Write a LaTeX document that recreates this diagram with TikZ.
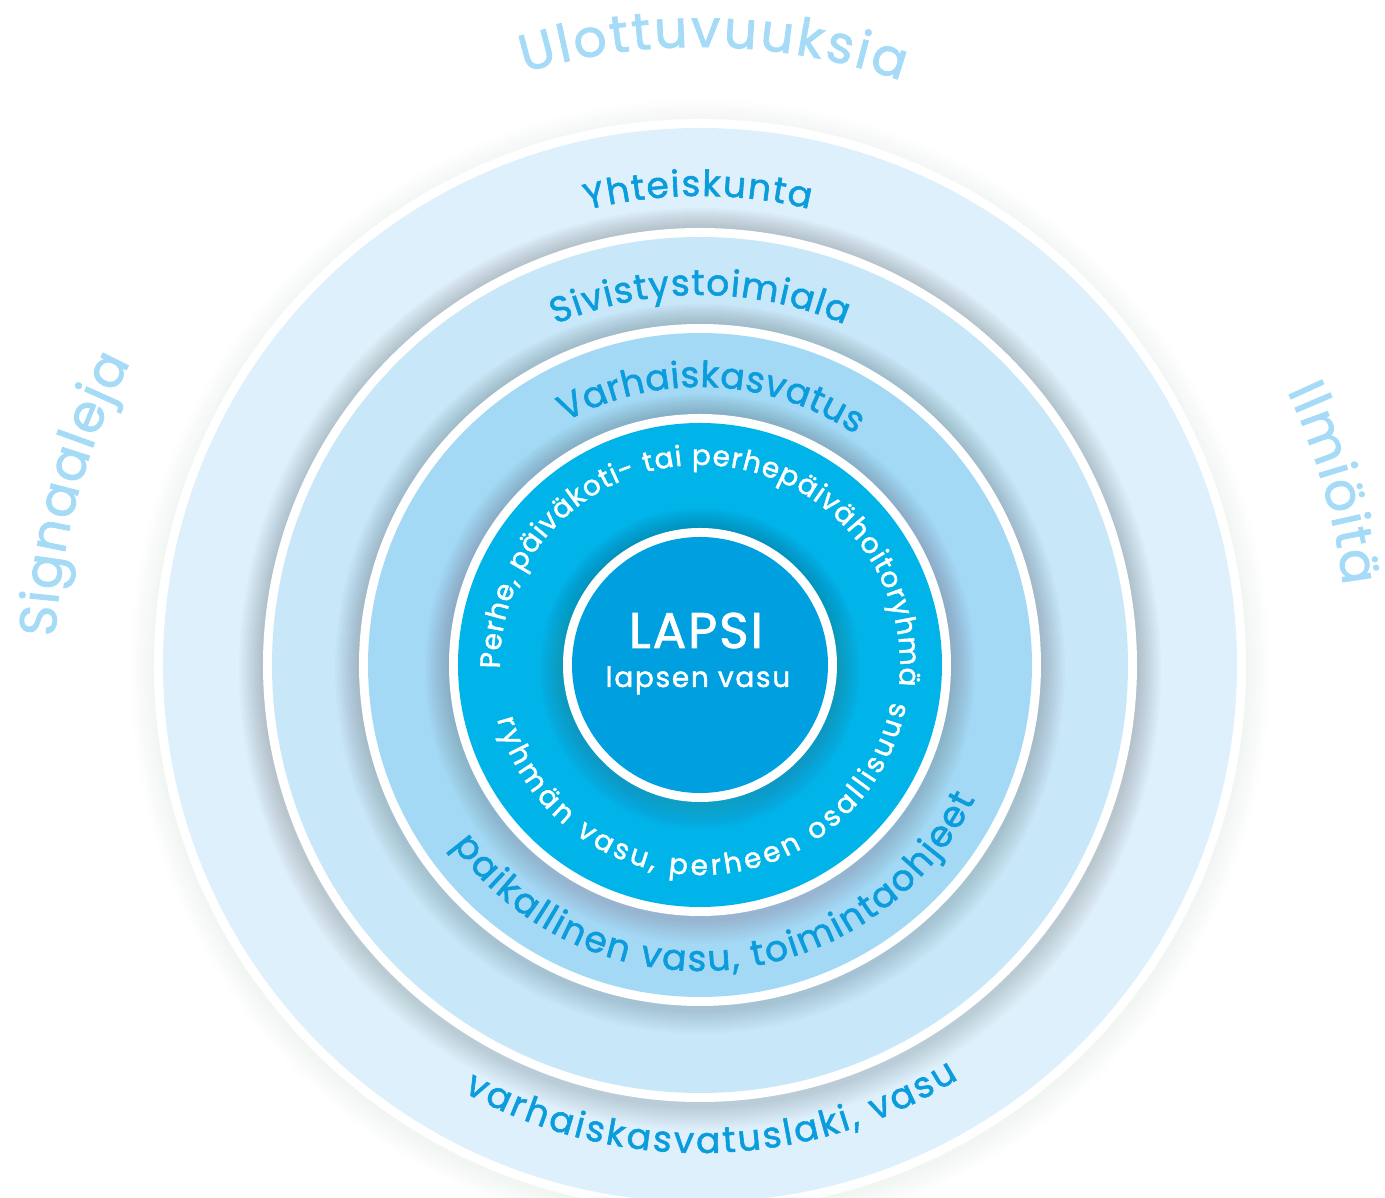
\documentclass[tikz,border=0pt]{standalone}
\usepackage{fontspec}
\setmainfont{Poppins}[FakeBold=1.6]
\usetikzlibrary{decorations.text}
\newcommand{\ringsize}[1]{\fontsize{#1}{#1}\selectfont}
\tikzset{
  ringlabel/.style = {decorate, decoration={text along path, text align={fit to path}}},
  corelabel/.style = {text=white, inner sep=0pt, anchor=base}
}

\begin{document}
\begin{tikzpicture}[x=1pt, y=1pt]
  \definecolor{ringA}{HTML}{DEF0FB}
  \definecolor{ringB}{HTML}{C8E7F8}
  \definecolor{ringC}{HTML}{A3D9F5}
  \definecolor{ringD}{HTML}{00B4EA}
  \definecolor{ringE}{HTML}{009FE0}
  \definecolor{bandText}{HTML}{0A9CDD}
  \definecolor{outerText}{HTML}{A6DBF7}
  \definecolor{glow}{HTML}{9FBFAA}
  \definecolor{shade}{HTML}{4FA5B0}

  \useasboundingbox (-700,-533) rectangle (685,665);

  % rings, each with a soft shadow round it
  \foreach \R/\col/\sh in {546/ringA/glow, 437/ringB/shade, 341/ringC/shade, 251/ringD/shade, 137/ringE/shade}{
    \foreach \k in {1,...,12}
      \fill[\sh, opacity=0.01] (0,-4) circle ({\R+2*\k});
    \fill[white] (0,0) circle (\R);
    \fill[\col] (0,0) circle ({\R-9});
  }

  % outer words
  \path[ringlabel, decoration={text={|\ringsize{52}\color{outerText}|Ulottuvuuksia}}]
    (106.5:618) arc[start angle=106.5, end angle=71, radius=618];
  \path[ringlabel, decoration={text={|\ringsize{52}\color{outerText}|Signaaleja}}]
    (177.5:645) arc[start angle=177.5, end angle=152, radius=645];
  \path[ringlabel, decoration={text={|\ringsize{52}\color{outerText}|Ilmiöitä}}]
    (25:648) arc[start angle=25, end angle=7, radius=648];

  % band labels, top
  \path[ringlabel, decoration={text={|\ringsize{36}\color{bandText}|Yhteiskunta}}]
    (104:469) arc[start angle=104, end angle=76.5, radius=469];
  \path[ringlabel, decoration={text={|\ringsize{36}\color{bandText}|Sivistystoimiala}}]
    (113:370) arc[start angle=113, end angle=67, radius=370];
  \path[ringlabel, decoration={text={|\ringsize{36}\color{bandText}|Varhaiskasvatus}}]
    (119:278) arc[start angle=119, end angle=56, radius=278];
  \path[ringlabel, decoration={text={|\ringsize{28}\color{white}|Perhe, päiväkoti- tai perhepäivähoitoryhmä}}]
    (181:200) arc[start angle=181, end angle=-6, radius=200];

  % band labels, bottom
  \path[ringlabel, decoration={text={|\ringsize{28}\color{white}|ryhmän vasu, perheen osallisuus}}]
    (195:210) arc[start angle=195, end angle=349, radius=210];
  \path[ringlabel, decoration={text={|\ringsize{36}\color{bandText}|paikallinen vasu, toimintaohjeet}}]
    (216:306) arc[start angle=216, end angle=334, radius=306];
  \path[ringlabel, decoration={text={|\ringsize{36}\color{bandText}|varhaiskasvatuslaki, vasu}}]
    (241:488) arc[start angle=241, end angle=302, radius=488];

  % centre
  \node[corelabel, font={\ringsize{50}\addfontfeatures{LetterSpace=4}}] (lapsi) at (-4,17) {LAPSI};
  \node[corelabel, font={\ringsize{28}\addfontfeatures{LetterSpace=6}}] (lapsivasu) at (-2,-22) {lapsen vasu};
\end{tikzpicture}
\end{document}
